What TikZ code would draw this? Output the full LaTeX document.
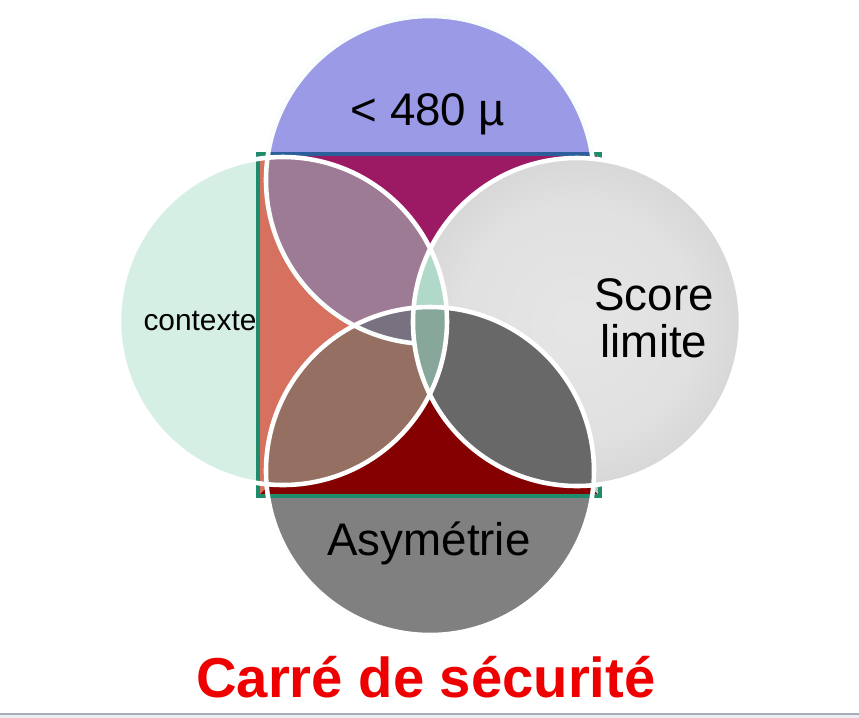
\documentclass[tikz,border=0pt]{standalone}
\usepackage{fontspec}
\setmainfont{Liberation Sans}
\definecolor{periw}{HTML}{9A9AE6}
\definecolor{mint}{HTML}{D5EFE4}
\definecolor{asymgray}{HTML}{808080}
\definecolor{magen}{HTML}{9C1A64}
\definecolor{salmon}{HTML}{D6705F}
\definecolor{darkred}{HTML}{850000}
\definecolor{mauve}{HTML}{9E7B95}
\definecolor{brownish}{HTML}{957062}
\definecolor{graymauve}{HTML}{787280}
\definecolor{lensgreen}{HTML}{B1D9C9}
\definecolor{lensgreengray}{HTML}{87A79A}
\definecolor{darkgray}{HTML}{686868}
\definecolor{lightcorner}{HTML}{C4C4C4}
\definecolor{sqteal}{HTML}{1F8A6C}
\definecolor{sqblue}{HTML}{2D5E9C}
\definecolor{titlered}{HTML}{EE0000}
\definecolor{barline}{HTML}{A6AEBA}
\definecolor{barfill}{HTML}{ECEFF2}
\pgfdeclareradialshading{scoreshade}{\pgfpoint{0bp}{0bp}}{rgb(0bp)=(0.90,0.90,0.90); rgb(18bp)=(0.88,0.88,0.88); rgb(50bp)=(0.72,0.72,0.72)}
\def\rad{1.64}

\begin{document}
\begin{tikzpicture}[
  ring/.style={draw=white,line width=1.3pt},
  lbl/.style={font=\fontsize{13}{15}\selectfont,anchor=base,inner sep=0pt,text=black}]
\useasboundingbox (0,0) rectangle (8.59,-7.18);
\coordinate (T) at (4.30,-1.80);
\coordinate (B) at (4.30,-4.71);
\coordinate (L) at (2.83,-3.21);
\coordinate (R) at (5.77,-3.22);
\coordinate (sq1) at (2.58,-1.54);
\coordinate (sq2) at (6.00,-4.96);
\coordinate (mid) at (4.29,-3.25);

\fill[periw] (T) circle (\rad);
\fill[asymgray] (B) circle (\rad);
\fill[mint] (L) circle (\rad);

\begin{scope}
\clip (sq1) rectangle (sq2);
\fill[magen] (sq1) -- (sq1 -| sq2) -- (mid) -- cycle;
\fill[salmon] (sq1) -- (sq1 |- sq2) -- (mid) -- cycle;
\fill[darkred] (sq1 |- sq2) -- (sq2) -- (mid) -- cycle;
\fill[lightcorner] (sq1 -| sq2) -- (sq2) -- (mid) -- cycle;
\fill[magen] (T) circle (\rad);
\fill[salmon] (L) circle (\rad);
\fill[darkred] (B) circle (\rad);
\begin{scope}
\clip (L) circle (\rad);
\fill[mauve] (T) circle (\rad);
\fill[brownish] (B) circle (\rad);
\clip (T) circle (\rad);
\fill[graymauve] (B) circle (\rad);
\end{scope}
\end{scope}

\draw[sqteal,line width=1.2pt] (sq1) rectangle (sq2);
\begin{scope}
\clip (T) circle (\rad);
\draw[sqblue,line width=1.2pt] (sq1) -- (sq1 -| sq2);
\end{scope}
\draw[ring,draw=white!85!mint] (T) circle (\rad);

\shade[shading=scoreshade] (R) circle (\rad);
\begin{scope}
\clip (R) circle (\rad);
\fill[darkgray] (B) circle (\rad);
\fill[lensgreen] (L) circle (\rad);
\clip (L) circle (\rad);
\fill[lensgreengray] (B) circle (\rad);
\end{scope}

\draw[ring] (L) circle (\rad);
\draw[ring] (B) circle (\rad);
\draw[ring] (R) circle (\rad);

\node[lbl] (mu) at (4.28,-1.25) {< 480 µ};
\node[lbl] (score) at (6.54,-3.10) {Score};
\node[lbl] (limite) at (6.54,-3.57) {limite};
\node[lbl,font=\fontsize{8.5}{10}\selectfont] (ctx) at (2.00,-3.30) {contexte};
\node[lbl] (asym) at (4.29,-5.55) {Asymétrie};
\node[lbl,font=\bfseries\fontsize{16}{19}\selectfont,text=titlered] (title) at (4.26,-6.97) {Carré de sécurité};

\fill[barfill] (0,-7.14) rectangle (8.59,-7.18);
\draw[barline,line width=0.6pt] (0,-7.14) -- (8.59,-7.14);
\end{tikzpicture}
\end{document}
